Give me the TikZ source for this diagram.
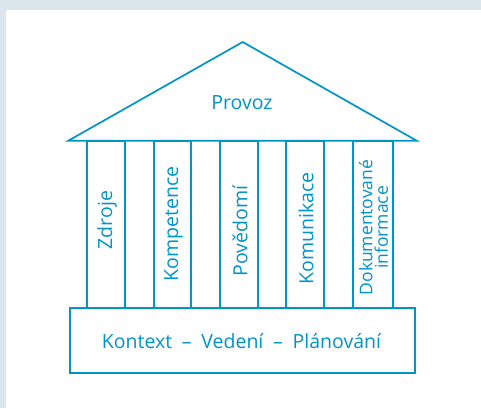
\documentclass[tikz,border=0pt]{standalone}
\usepackage{fontspec}
\setmainfont{Open Sans}
\definecolor{isoblue}{HTML}{0095C8}
\definecolor{panel}{HTML}{DAE5EC}

\tikzset{
  pillar/.style={draw=isoblue,minimum height=167.3pt},
  caption/.style={font=\fontsize{19.5}{21}\selectfont},
  upright/.style={caption,rotate=90}
}

\begin{document}
\begin{tikzpicture}
    [x=1pt,y=-1pt,line width=1.7pt,every node/.style={text=isoblue,inner sep=0pt,outer sep=0pt}]
      \fill[panel] (0,0) rectangle (481,408);
      \fill[white] (6,10) rectangle (481,408);
      \useasboundingbox (0,0) rectangle (481,408);

      \coordinate (apex)  at (242.7,42);
      \coordinate (eaveL) at (68.3,140.7);
      \coordinate (eaveR) at (416.7,140.7);
      \draw[isoblue,line join=miter] (eaveL) -- (apex) -- (eaveR) -- cycle;
      \node (roof)[caption] at (242,103) {Provoz};

      \node (base)[draw=isoblue,minimum width=344.7pt,minimum height=65.3pt] at (242.65,340.65) {};
      \node (basetext)[caption] at (241.5,341) {Kontext\enspace–\enspace Vedení\enspace–\enspace Plánování};

      \foreach \name/\cx/\w/\ty/\txt in {
          p1/106/37.4/220/Zdroje,
          p2/172.5/37/224/Kompetence,
          p3/239/37.4/231/Povědomí,
          p4/305/37.4/228.7/Komunikace}
      {
        \node (\name)[pillar,minimum width=\w pt] at (\cx,224.35) {};
        \node (\name t)[upright] at (\cx+1,\ty) {\txt};
      }
      \node (p5)[pillar,minimum width=40.6pt] at (373,224.35) {};
      \node (p5t)[upright,align=center,font=\fontsize{17.5}{15.5}\selectfont] at (373.5,227.5) {Dokumentované\\informace};

      %\node (level)[caption] at (242,20) {ISO};
    \end{tikzpicture}
\end{document}
